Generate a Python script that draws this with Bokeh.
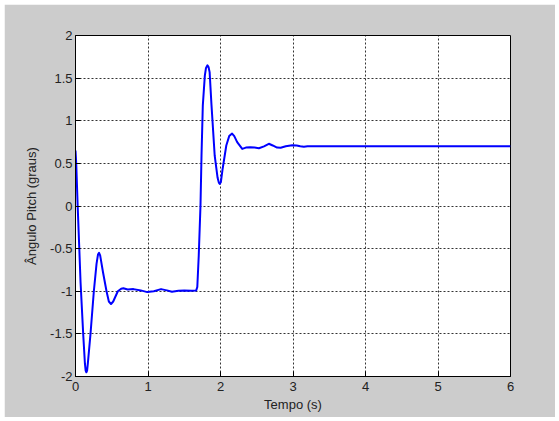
from bokeh.plotting import figure
from bokeh.models import Range1d, FixedTicker
from bokeh.embed import file_html
from bokeh.resources import INLINE

# Data
tempo = [0.0, 0.01, 0.03, 0.07, 0.106, 0.13, 0.14, 0.15, 0.16, 0.17, 0.207, 0.253,
         0.29, 0.31, 0.325, 0.34, 0.38, 0.428, 0.46, 0.49, 0.52, 0.584, 0.63, 0.66,
         0.72, 0.8, 0.9, 0.99, 1.08, 1.18, 1.26, 1.33, 1.42, 1.5, 1.6, 1.665, 1.68,
         1.70, 1.724, 1.738, 1.756, 1.784, 1.80, 1.82, 1.835, 1.85, 1.876, 1.92,
         1.96, 1.977, 1.99, 2.005, 2.03, 2.08, 2.12, 2.16, 2.19, 2.23, 2.30, 2.35,
         2.41, 2.47, 2.53, 2.6, 2.667, 2.72, 2.78, 2.83, 2.9, 2.99, 3.05, 3.1, 3.15,
         3.2, 3.3, 6.0]
angulo = [0.65, 0.5, 0.0, -0.9, -1.5, -1.85, -1.93, -1.95, -1.93, -1.85, -1.5, -1.0,
          -0.68, -0.57, -0.55, -0.58, -0.78, -1.0, -1.12, -1.15, -1.12, -1.0, -0.97,
          -0.965, -0.98, -0.975, -0.99, -1.01, -1.0, -0.975, -0.99, -1.005, -0.995,
          -0.99, -0.995, -0.99, -0.95, -0.58, 0.006, 0.59, 1.18, 1.53, 1.62, 1.65,
          1.63, 1.57, 1.18, 0.59, 0.33, 0.275, 0.26, 0.28, 0.44, 0.71, 0.82, 0.85,
          0.82, 0.75, 0.67, 0.685, 0.69, 0.685, 0.678, 0.70, 0.73, 0.71, 0.685,
          0.683, 0.70, 0.713, 0.71, 0.70, 0.695, 0.70, 0.70, 0.70]

x_ticks = [0, 1, 2, 3, 4, 5, 6]
y_ticks = [-2, -1.5, -1, -0.5, 0, 0.5, 1, 1.5, 2]
y_tick_labels = ["-2", "-1.5", "-1", "-0.5", "0", "0.5", "1", "1.5", "2"]

FONT = "Liberation Sans"

p = figure(width=551, height=413, frame_width=435, frame_height=341,
           x_range=Range1d(0, 6), y_range=Range1d(-2, 2),
           output_backend="svg", toolbar_location=None,
           min_border_left=71, min_border_right=45, min_border_top=31, min_border_bottom=41)
p.margin = (4, 4, 4, 4)

p.border_fill_color = "#cccccc"
p.background_fill_color = "white"
p.outline_line_color = "black"
p.outline_line_width = 1

p.line(tempo, angulo, line_color="#0000ff", line_width=2, line_join="round")

for ax in (p.xaxis[0], p.yaxis[0]):
    ax.major_tick_in = 5
    ax.major_tick_out = 0
    ax.minor_tick_line_color = None
    ax.axis_line_color = "black"
    ax.major_tick_line_color = "black"
    ax.major_label_text_font = FONT
    ax.major_label_text_font_size = "13px"
    ax.major_label_text_color = "#222222"
    ax.axis_label_text_font = FONT
    ax.axis_label_text_font_size = "13px"
    ax.axis_label_text_font_style = "normal"
    ax.axis_label_text_color = "#222222"

p.xaxis.ticker = FixedTicker(ticks=x_ticks)
p.yaxis.ticker = FixedTicker(ticks=y_ticks)
p.xaxis.major_label_overrides = {t: str(t) for t in x_ticks}
p.yaxis.major_label_overrides = {t: l for t, l in zip(y_ticks, y_tick_labels)}
p.xaxis.major_label_standoff = 5
p.yaxis.major_label_standoff = 3
p.xaxis.axis_label = "Tempo (s)"
p.yaxis.axis_label = "Ângulo Pitch (graus)"
p.xaxis.axis_label_standoff = 3
p.yaxis.axis_label_standoff = 8

p.xgrid.ticker = FixedTicker(ticks=x_ticks)
p.ygrid.ticker = FixedTicker(ticks=y_ticks)
for g in (p.xgrid[0], p.ygrid[0]):
    g.grid_line_color = "black"
    g.grid_line_alpha = 0.8
    g.grid_line_dash = "2 2"
    g.grid_line_width = 1

open("out.html", "w").write(file_html(p, INLINE))
